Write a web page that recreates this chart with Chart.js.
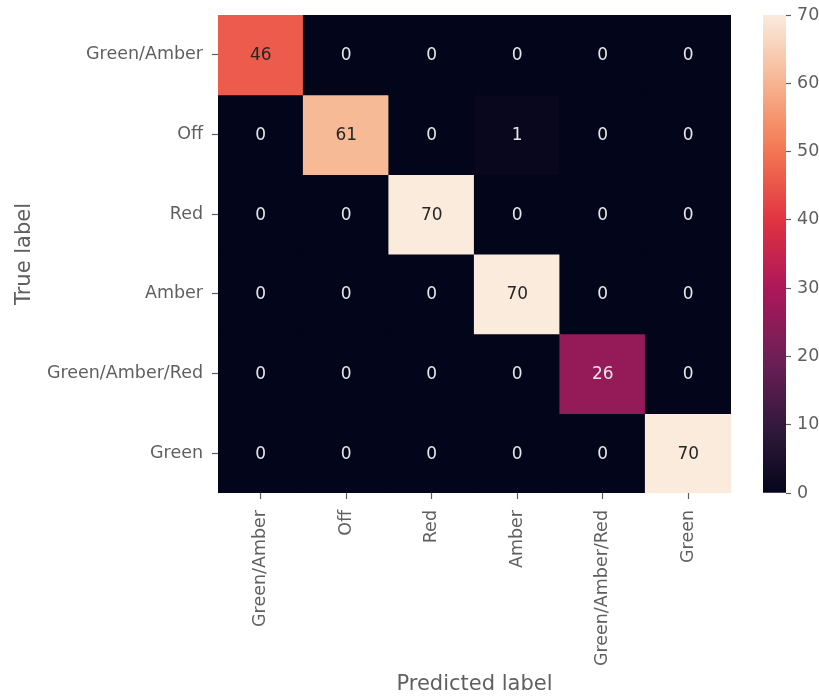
<!DOCTYPE html>
<html>
<head>
<meta charset="utf-8">
<script src="https://cdn.jsdelivr.net/npm/chart.js@4/dist/chart.umd.min.js"></script>
<style>
  html, body { margin: 0; padding: 0; background: #ffffff; }
  #wrap { position: relative; width: 819px; height: 698px; overflow: hidden; }
  #heat { position: absolute; left: 0; top: 0; }
  #cbar { position: absolute; left: 740px; top: 0; }
</style>
</head>
<body>
<div id="wrap">
  <canvas id="heat" width="819" height="698"></canvas>
  <canvas id="cbar" width="79" height="698"></canvas>
</div>
<script>
// Class names, in matrix order
const trueLabels = ['Green/Amber', 'Off', 'Red', 'Amber', 'Green/Amber/Red', 'Green'];
const predictedLabels = ['Green/Amber', 'Off', 'Red', 'Amber', 'Green/Amber/Red', 'Green'];

// Confusion counts, one array per true class
const rowGreenAmber    = [46, 0, 0, 0, 0, 0];
const rowOff           = [0, 61, 0, 1, 0, 0];
const rowRed           = [0, 0, 70, 0, 0, 0];
const rowAmber         = [0, 0, 0, 70, 0, 0];
const rowGreenAmberRed = [0, 0, 0, 0, 26, 0];
const rowGreen         = [0, 0, 0, 0, 0, 70];
const counts = [rowGreenAmber, rowOff, rowRed, rowAmber, rowGreenAmberRed, rowGreen];

// Colour bar range and ticks
const colorMin = 0;
const colorMax = 70;
const colorTicks = [0, 10, 20, 30, 40, 50, 60, 70];

// "rocket" colour ramp
const rocketStops = [
  [0.000, [3, 5, 26]],
  [0.071, [28, 16, 44]],
  [0.143, [53, 25, 62]],
  [0.286, [112, 31, 87]],
  [0.429, [173, 23, 89]],
  [0.571, [225, 51, 66]],
  [0.714, [243, 118, 81]],
  [0.857, [246, 180, 143]],
  [1.000, [250, 235, 221]]
];

function rocket(t) {
  t = Math.max(0, Math.min(1, t));
  for (let i = 1; i < rocketStops.length; i++) {
    const [p1, c1] = rocketStops[i];
    const [p0, c0] = rocketStops[i - 1];
    if (t <= p1) {
      const f = (t - p0) / (p1 - p0);
      const c = c0.map((v, k) => Math.round(v + (c1[k] - v) * f));
      return `rgb(${c[0]},${c[1]},${c[2]})`;
    }
  }
  const c = rocketStops[rocketStops.length - 1][1];
  return `rgb(${c[0]},${c[1]},${c[2]})`;
}

function norm(v) { return (v - colorMin) / (colorMax - colorMin); }

const FONT = 'DejaVu Sans';
const TEXT_GREY = '#5f5f5f';
const TICK_SIZE = 17.5;

// One floating-bar dataset per true class; each bar spans one row band
const datasets = counts.map((row, i) => ({
  label: trueLabels[i],
  data: row.map((v, j) => ({ x: predictedLabels[j], y: [i, i + 1], v: v })),
  backgroundColor: row.map(v => rocket(norm(v))),
  borderWidth: 0,
  inflateAmount: 0.6,
  barPercentage: 1.0,
  categoryPercentage: 1.0,
  grouped: false
}));

// Writes each count in the centre of its cell
const cellText = {
  id: 'cellText',
  afterDatasetsDraw(chart) {
    const ctx = chart.ctx;
    ctx.save();
    ctx.font = `17px "${FONT}"`;
    ctx.textAlign = 'center';
    ctx.textBaseline = 'middle';
    chart.data.datasets.forEach((ds, di) => {
      const meta = chart.getDatasetMeta(di);
      meta.data.forEach((bar, j) => {
        const v = ds.data[j].v;
        ctx.fillStyle = norm(v) > 0.6 ? '#262626' : '#e6e6e6';
        ctx.fillText(String(v), bar.x, (bar.y + bar.base) / 2 + 1);
      });
    });
    ctx.restore();
  }
};

new Chart(document.getElementById('heat'), {
  type: 'bar',
  data: { labels: predictedLabels, datasets: datasets },
  options: {
    responsive: false,
    animation: false,
    devicePixelRatio: 1,
    layout: { padding: { left: 0, right: 88, top: 15, bottom: 0 } },
    plugins: { legend: { display: false }, tooltip: { enabled: false } },
    scales: {
      x: {
        type: 'category',
        offset: true,
        border: { display: false },
        grid: { display: true, drawOnChartArea: false, drawTicks: true, tickLength: 6, tickWidth: 1.2, color: TEXT_GREY, offset: false },
        ticks: { color: TEXT_GREY, font: { family: FONT, size: TICK_SIZE }, minRotation: 90, maxRotation: 90, padding: 11, autoSkip: false },
        title: { display: true, text: 'Predicted label', color: TEXT_GREY, font: { family: FONT, size: 21 }, padding: { top: 0, bottom: 1 } },
        afterFit(scale) { scale.height = 205; scale.paddingLeft = 0; scale.paddingRight = 0; }
      },
      y: {
        type: 'linear',
        min: 0,
        max: trueLabels.length,
        reverse: true,
        border: { display: false },
        grid: { display: true, drawOnChartArea: false, drawTicks: true, tickLength: 6, tickWidth: 1.2, color: TEXT_GREY },
        afterBuildTicks(scale) {
          scale.ticks = trueLabels.map((_, i) => ({ value: i + 0.5 }));
        },
        ticks: {
          color: TEXT_GREY,
          font: { family: FONT, size: TICK_SIZE },
          padding: 9,
          callback: (v) => trueLabels[Math.floor(v)]
        },
        title: { display: true, text: 'True label', color: TEXT_GREY, font: { family: FONT, size: 21 }, padding: { top: 12, bottom: 0 } },
        afterFit(scale) { scale.width = 218; scale.paddingTop = 0; scale.paddingBottom = 0; }
      }
    }
  },
  plugins: [cellText]
});

// Colour bar: a single floating bar over the value scale, filled with the ramp
new Chart(document.getElementById('cbar'), {
  type: 'bar',
  data: {
    labels: ['scale'],
    datasets: [{
      data: [[colorMin, colorMax]],
      borderWidth: 0,
      barPercentage: 1.0,
      categoryPercentage: 1.0,
      backgroundColor(context) {
        const chart = context.chart;
        const y = chart.scales.y;
        if (!y) return rocket(0);
        const y0 = y.getPixelForValue(colorMin);
        const y1 = y.getPixelForValue(colorMax);
        if (!isFinite(y0) || !isFinite(y1) || y0 === y1) return rocket(0);
        const g = chart.ctx.createLinearGradient(0, y0, 0, y1);
        for (let k = 0; k <= 40; k++) g.addColorStop(k / 40, rocket(k / 40));
        return g;
      }
    }]
  },
  options: {
    responsive: false,
    animation: false,
    devicePixelRatio: 1,
    layout: { padding: { left: 23, right: 0, top: 15, bottom: 205 } },
    plugins: { legend: { display: false }, tooltip: { enabled: false } },
    scales: {
      x: { display: false },
      y: {
        type: 'linear',
        position: 'right',
        min: colorMin,
        max: colorMax,
        border: { display: false },
        grid: { display: true, drawOnChartArea: false, drawTicks: true, tickLength: 5, tickWidth: 1.2, color: TEXT_GREY },
        afterBuildTicks(scale) {
          scale.ticks = colorTicks.map(v => ({ value: v }));
        },
        ticks: { color: TEXT_GREY, font: { family: FONT, size: TICK_SIZE }, padding: 6 },
        afterFit(scale) { scale.width = 33; scale.paddingTop = 0; scale.paddingBottom = 0; }
      }
    }
  }
});
</script>
</body>
</html>
